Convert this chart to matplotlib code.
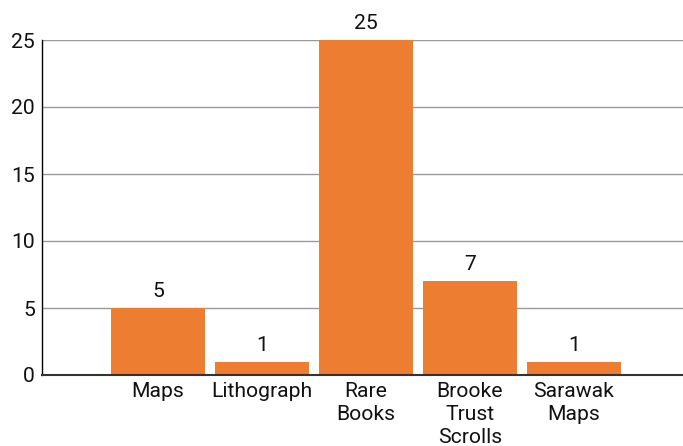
import matplotlib
matplotlib.use("Agg")
import matplotlib.pyplot as plt

categories = ["Maps", "Lithograph", "Rare\nBooks", "Brooke\nTrust\nScrolls", "Sarawak\nMaps"]
values = [5, 1, 25, 7, 1]
yticks = [0, 5, 10, 15, 20, 25]

plt.rcParams['font.family'] = ['Roboto', 'DejaVu Sans']
FS = 15.2

fig = plt.figure(figsize=(6.83, 4.46), dpi=100)
W, H = 683, 446
ax = fig.add_axes([42 / W, (H - 375) / H, (683 - 42) / W, (375 - 40) / H])

pos = list(range(1, len(categories) + 1))
bars = ax.bar(pos, values, width=0.9, color="#ED7D31", zorder=3)

ax.set_xlim(-0.115, 6.05)
ax.set_ylim(0, 25)
ax.set_yticks(yticks)
ax.set_xticks(pos)
ax.set_xticklabels(categories, fontsize=FS, color="#111111", linespacing=1.27)
ax.tick_params(axis='both', length=0, labelsize=FS, colors="#111111")
ax.tick_params(axis='y', pad=5)
ax.tick_params(axis='x', pad=5)

ax.yaxis.grid(True, color="#9a9a9a", linewidth=1.0, zorder=0)
ax.set_axisbelow(True)
for s in ["top", "right"]:
    ax.spines[s].set_visible(False)
ax.spines["left"].set_color("#000000")
ax.spines["left"].set_linewidth(1.0)
ax.spines["bottom"].set_color("#333333")
ax.spines["bottom"].set_linewidth(1.5)
ax.spines["bottom"].set_zorder(4)

for b, v in zip(bars, values):
    ax.annotate(str(v), (b.get_x() + b.get_width() / 2, v), xytext=(0, 5),
                textcoords="offset points", ha="center", va="bottom",
                fontsize=FS, color="#111111", annotation_clip=False)

fig.savefig("out.png", dpi=100)
